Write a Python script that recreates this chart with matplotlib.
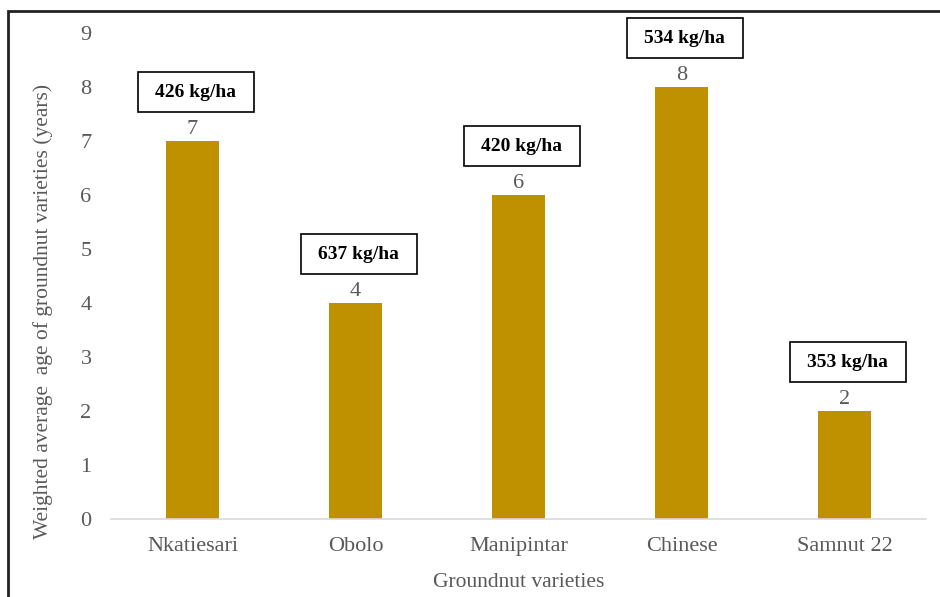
import matplotlib.pyplot as plt
from matplotlib.patches import Rectangle

varieties = ['Nkatiesari', 'Obolo', 'Manipintar', 'Chinese', 'Samnut 22']
avg_age = [7, 4, 6, 8, 2]
yields = ['426 kg/ha', '637 kg/ha', '420 kg/ha', '534 kg/ha', '353 kg/ha']

plt.rcParams['font.family'] = ['Liberation Serif', 'DejaVu Serif']
grey = '#595959'

fig = plt.figure(figsize=(9.4, 5.97), dpi=100)
ax = fig.add_axes([111/940, 78/597, 815/940, 486/597])

x = range(len(varieties))
ax.bar(x, avg_age, width=0.32, color='#BF9000')

# value on top of each bar, yield box above it
box_w, box_h, box_gap = 0.71, 0.74, 0.9
for i, v in enumerate(avg_age):
    ax.text(i, v + 0.03, str(v), ha='center', va='bottom', fontsize=16, color=grey)
    ax.add_patch(Rectangle((i + 0.02 - box_w / 2, v + box_gap - box_h / 2), box_w, box_h,
                           facecolor='white', edgecolor='black', linewidth=1.2,
                           zorder=3, clip_on=False))
    ax.text(i + 0.02, v + box_gap, yields[i], ha='center', va='center', fontsize=14,
            fontweight='bold', color='black', zorder=4, clip_on=False)

ax.set_xlim(-0.5, len(varieties) - 0.5)
ax.set_ylim(0, 9)
ax.set_yticks(range(0, 10))
ax.set_xticks(list(x))
ax.set_xticklabels(varieties)
ax.tick_params(axis='both', length=0, labelsize=16, labelcolor=grey)
ax.tick_params(axis='y', pad=14)
ax.tick_params(axis='x', pad=13)
for side in ['top', 'right', 'left']:
    ax.spines[side].set_visible(False)
ax.spines['bottom'].set_color('#D9D9D9')
ax.spines['bottom'].set_linewidth(1.2)

ax.set_xlabel('Groundnut varieties', fontsize=15.5, color=grey, labelpad=12)
fig.text(43.5/940, 0.479, 'Weighted average  age of groundnut varieties (years)',
         rotation=90, ha='center', va='center', fontsize=15.5, color=grey)

# outer frame around the chart
fig.patches.append(Rectangle((8/940, -0.1), 1.0, 1.1 - 11/597, transform=fig.transFigure,
                             fill=False, edgecolor='#222222', linewidth=2))

fig.savefig('out.png', dpi=100)
